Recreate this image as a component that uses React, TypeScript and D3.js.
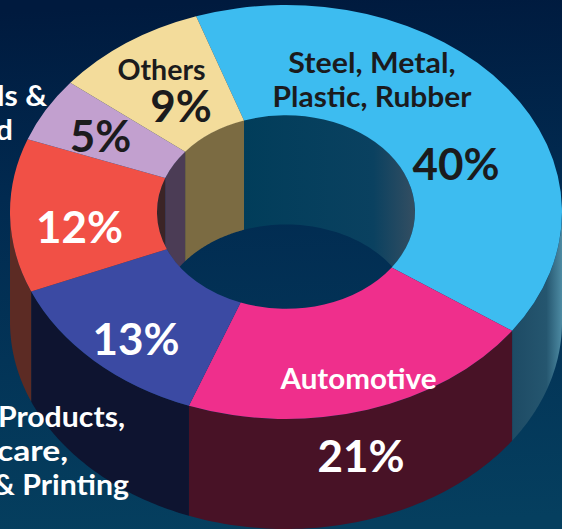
import React from "react";
import * as d3 from "d3";

// Market share by end-use segment, in percent.
const segments = ["Steel, Metal, Plastic, Rubber", "Automotive", "Consumer Products, Healthcare, Packaging & Printing", "Other share", "Chemicals & Allied", "Others"];
const shares = [40, 21, 13, 12, 5, 9];
const topColors = ["#3dbcf0", "#ef2f8c", "#3b4aa3", "#f15046", "#c2a0cf", "#f3dc9b"];
const outerWallColors = ["url(#steelWall)", "#481226", "#0e1430", "#5c2b24", "#3a2a40", "#6a5c3a"];
const innerWallColors = ["url(#steelInner)", "#481226", "#0e1430", "#3b2426", "#4b3c55", "#7b6b42"];

const W = 562;
const H = 529;
const cx = 286;
const cy = 212;
const rx = 276;
const ry = 207;
const holeRx = 129;
const holeRy = 97.5;
const depth = 110;
const startAngle = (-19 * Math.PI) / 180;

const pie = d3.pie<number>().sort(null).startAngle(startAngle).endAngle(startAngle + 2 * Math.PI);
const slices = pie(shares);
const arcGen = d3.arc<d3.PieArcDatum<number>>().outerRadius(rx).innerRadius(holeRx);

const sx = (a: number, r: number) => cx + r * Math.sin(a);
const sy = (a: number, r: number) => cy - r * Math.cos(a);

// Extruded band between an elliptical rim and the same rim shifted down by the depth.
function wall(a0: number, a1: number, r: number, v: number) {
  if (a1 <= a0) return null;
  const ts = d3.range(0, 61).map((i) => a0 + ((a1 - a0) * i) / 60);
  const top = ts.map((t) => [sx(t, r), sy(t, v)] as [number, number]);
  const bottom = ts.slice().reverse().map((t) => [sx(t, r), sy(t, v) + depth] as [number, number]);
  return d3.line()([...top, ...bottom]) + "Z";
}

const PI = Math.PI;
// Visible angular window of a wall: outer rim faces the viewer in the lower half, hole rim in the upper half.
const clampRange = (a0: number, a1: number, lo: number, hi: number): [number, number] => [Math.max(a0, lo), Math.min(a1, hi)];

type Label = { text: string; x: number; y: number; size: number; fill: string; anchor?: string; stretch?: number };
const DARK = "#1b1b1d";
const LIGHT = "#ffffff";
const pct = (i: number) => `${shares[i]}%`;
const labels: Label[] = [
  { text: "Others", x: 161.5, y: 80, size: 28, fill: DARK, stretch: 1.02 },
  { text: pct(5), x: 181, y: 122, size: 44, fill: DARK },
  { text: pct(4), x: 100.5, y: 152, size: 44, fill: DARK },
  { text: pct(3), x: 79.5, y: 243, size: 44, fill: LIGHT },
  { text: "Steel, Metal,", x: 372, y: 73, size: 28, fill: DARK, stretch: 1.085 },
  { text: "Plastic, Rubber", x: 372, y: 107, size: 28, fill: DARK, stretch: 1.07 },
  { text: pct(0), x: 456, y: 180, size: 44, fill: DARK },
  { text: pct(2), x: 136, y: 355, size: 44, fill: LIGHT },
  { text: "Automotive", x: 358.5, y: 389, size: 28, fill: LIGHT, stretch: 1.055 },
  { text: pct(1), x: 361, y: 472, size: 44, fill: LIGHT },
  { text: "Chemicals &", x: 47, y: 106, size: 28, fill: LIGHT, anchor: "end", stretch: 1.08 },
  { text: "Allied", x: 13, y: 140, size: 28, fill: LIGHT, anchor: "end", stretch: 1.08 },
  { text: "Consumer Products,", x: 125, y: 427, size: 28, fill: LIGHT, anchor: "end", stretch: 1.08 },
  { text: "Healthcare,", x: 68, y: 461, size: 28, fill: LIGHT, anchor: "end", stretch: 1.2 },
  { text: "Packaging & Printing", x: 129, y: 495, size: 28, fill: LIGHT, anchor: "end", stretch: 1.08 },
];

export default function App() {
  return (
    <svg width={W} height={H} viewBox={`0 0 ${W} ${H}`} style={{ position: "fixed", left: 0, top: 0, display: "block" }} role="img" aria-label={segments.join(", ")}>
      <defs>
        <linearGradient id="bg" x1="0.45" y1="0" x2="0.5" y2="1">
          <stop offset="0" stopColor="#001a3e" />
          <stop offset="0.35" stopColor="#012a50" />
          <stop offset="1" stopColor="#053f5f" />
        </linearGradient>
        <linearGradient id="steelWall" gradientUnits="userSpaceOnUse" x1={510} x2={562} y1={0} y2={0}>
          <stop offset="0" stopColor="#1d4a64" />
          <stop offset="0.7" stopColor="#25566f" />
          <stop offset="1" stopColor="#4d8ba3" />
        </linearGradient>
        <linearGradient id="steelInner" gradientUnits="userSpaceOnUse" x1={242} x2={417} y1={0} y2={0}>
          <stop offset="0" stopColor="#013d5a" />
          <stop offset="0.75" stopColor="#0a4160" />
          <stop offset="1" stopColor="#364f62" />
        </linearGradient>
        <clipPath id="holeClip">
          <ellipse cx={cx} cy={cy} rx={holeRx} ry={holeRy} />
        </clipPath>
      </defs>
      <rect width={W} height={H} fill="url(#bg)" />

      {/* Outer rim of the ring */}
      <g>
        {slices.map((s, i) => {
          const [a0, a1] = clampRange(s.startAngle, s.endAngle, PI / 2, (3 * PI) / 2);
          const d = wall(a0, a1, rx, ry);
          return d ? <path key={i} d={d} fill={outerWallColors[i]} /> : null;
        })}
      </g>

      {/* Wall of the hole, seen only through the opening */}
      <g clipPath="url(#holeClip)">
        {slices.map((s, i) => {
          const parts: [number, number][] = [
            clampRange(s.startAngle, s.endAngle, -PI / 2, PI / 2),
            clampRange(s.startAngle, s.endAngle, (3 * PI) / 2, (5 * PI) / 2),
          ];
          return parts.map((p, j) => {
            const d = wall(p[0], p[1], holeRx, holeRy);
            return d ? <path key={`${i}-${j}`} d={d} fill={innerWallColors[i]} /> : null;
          });
        })}
      </g>

      {/* Top face */}
      <g transform={`translate(${cx},${cy}) scale(1,${ry / rx})`}>
        {slices.map((s, i) => (
          <path key={i} d={arcGen(s) ?? ""} fill={topColors[i]} />
        ))}
      </g>

      <g fontFamily="Lato, 'Open Sans', sans-serif" fontWeight={700}>
        {labels.map((l, i) => (
          <text
            key={i}
            transform={`translate(${l.x},${l.y}) scale(${l.stretch ?? 1},1)`}
            fontSize={l.size}
            fill={l.fill}
            textAnchor={l.anchor ?? "middle"}
          >
            {l.text}
          </text>
        ))}
      </g>
    </svg>
  );
}
